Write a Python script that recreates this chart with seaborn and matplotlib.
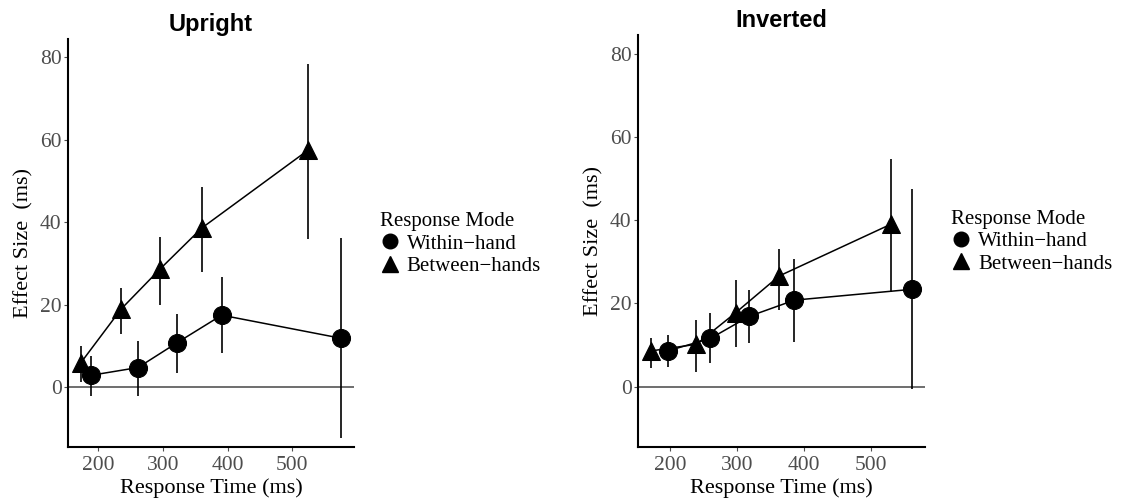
import pandas as pd
import numpy as np
import seaborn as sns
import matplotlib.pyplot as plt
from matplotlib.lines import Line2D

# -------------------------
# Data
# -------------------------
modes = ['Within-hand', 'Between-hands']
legend_labels = ['Within\u2212hand', 'Between\u2212hands']

# Upright
up_within_rt = [189, 262, 322, 391, 575]
up_within_eff = [2.9, 4.8, 10.8, 17.5, 11.9]
up_within_lo = [-2.0, -2.0, 3.5, 8.3, -12.4]
up_within_hi = [7.5, 11.2, 17.9, 26.7, 36.3]

up_between_rt = [174, 236, 296, 360, 524]
up_between_eff = [6.0, 19.0, 28.7, 38.6, 57.5]
up_between_lo = [1.3, 13.0, 20.0, 27.9, 36.0]
up_between_hi = [10.0, 24.0, 36.5, 48.5, 78.4]

# Inverted
inv_within_rt = [196, 260, 318, 386, 562]
inv_within_eff = [8.6, 11.6, 16.9, 20.8, 23.4]
inv_within_lo = [4.8, 5.6, 10.4, 10.8, -0.6]
inv_within_hi = [12.4, 17.6, 23.2, 30.8, 47.4]

inv_between_rt = [171, 239, 298, 363, 530]
inv_between_eff = [8.6, 10.2, 17.8, 26.6, 39.0]
inv_between_lo = [4.4, 3.6, 9.6, 18.4, 22.8]
inv_between_hi = [11.8, 16.0, 25.6, 33.2, 54.8]


def make_df(w_rt, w_eff, w_lo, w_hi, b_rt, b_eff, b_lo, b_hi):
    return pd.DataFrame({
        'rt': w_rt + b_rt,
        'effect': w_eff + b_eff,
        'lo': w_lo + b_lo,
        'hi': w_hi + b_hi,
        'mode': [modes[0]] * len(w_rt) + [modes[1]] * len(b_rt),
    })


panels = {
    'Upright': make_df(up_within_rt, up_within_eff, up_within_lo, up_within_hi,
                       up_between_rt, up_between_eff, up_between_lo, up_between_hi),
    'Inverted': make_df(inv_within_rt, inv_within_eff, inv_within_lo, inv_within_hi,
                        inv_between_rt, inv_between_eff, inv_between_lo, inv_between_hi),
}

# -------------------------
# Style
# -------------------------
sns.set_style('ticks')
plt.rcParams['font.family'] = ['Liberation Serif', 'DejaVu Serif']
plt.rcParams['axes.linewidth'] = 1.5
plt.rcParams['text.color'] = 'black'
plt.rcParams['axes.labelcolor'] = 'black'

fig = plt.figure(figsize=(11.22, 4.99), dpi=100)
ax_pos = {
    'Upright': [0.0606, 0.104, 0.2549, 0.818],
    'Inverted': [0.5686, 0.104, 0.2558, 0.826],
}

for name, df in panels.items():
    ax = fig.add_axes(ax_pos[name])
    ax.axhline(0, color='#555555', lw=1.2, zorder=1)
    ax.vlines(df['rt'], df['lo'], df['hi'], color='black', lw=1.2, zorder=2)
    sns.lineplot(data=df, x='rt', y='effect', style='mode', style_order=modes,
                 markers={modes[0]: 'o', modes[1]: '^'}, dashes=False,
                 color='black', markersize=13, markeredgecolor='black',
                 lw=1.1, legend=False, ax=ax, zorder=3)

    ax.set_ylim(-14.5, 84.5)
    ax.set_yticks([0, 20, 40, 60, 80])
    ax.set_xticks([200, 300, 400, 500])
    ax.margins(x=0.05)
    sns.despine(ax=ax)
    ax.spines['left'].set_color('black')
    ax.spines['bottom'].set_color('black')
    ax.tick_params(axis='both', colors='#4d4d4d', labelsize=15.5, length=3, width=0.8)
    ax.tick_params(axis='y', pad=1.5)
    ax.tick_params(axis='x', pad=3.5)

    ax.set_xlabel('Response Time (ms)', fontsize=16, color='black', labelpad=2)
    ax.set_ylabel('Effect Size  (ms)', fontsize=16, color='black', labelpad=5)
    ax.set_title(name, fontsize=17, fontweight='bold', color='black',
                 family=['Liberation Sans', 'DejaVu Sans'], pad=6)

    handles = [
        Line2D([], [], linestyle='none', marker='o', color='black', markersize=10.5),
        Line2D([], [], linestyle='none', marker='^', color='black', markersize=11.5),
    ]
    ax.legend(handles, legend_labels, title='Response Mode', frameon=False,
              loc='upper left', bbox_to_anchor=(1.09, 0.575), borderpad=0,
              handlelength=1.0, handletextpad=0.3, labelspacing=0.13,
              fontsize=15, title_fontsize=15, alignment='left', borderaxespad=0,
              labelcolor='black')

fig.savefig('out.png', dpi=100, facecolor='white')
